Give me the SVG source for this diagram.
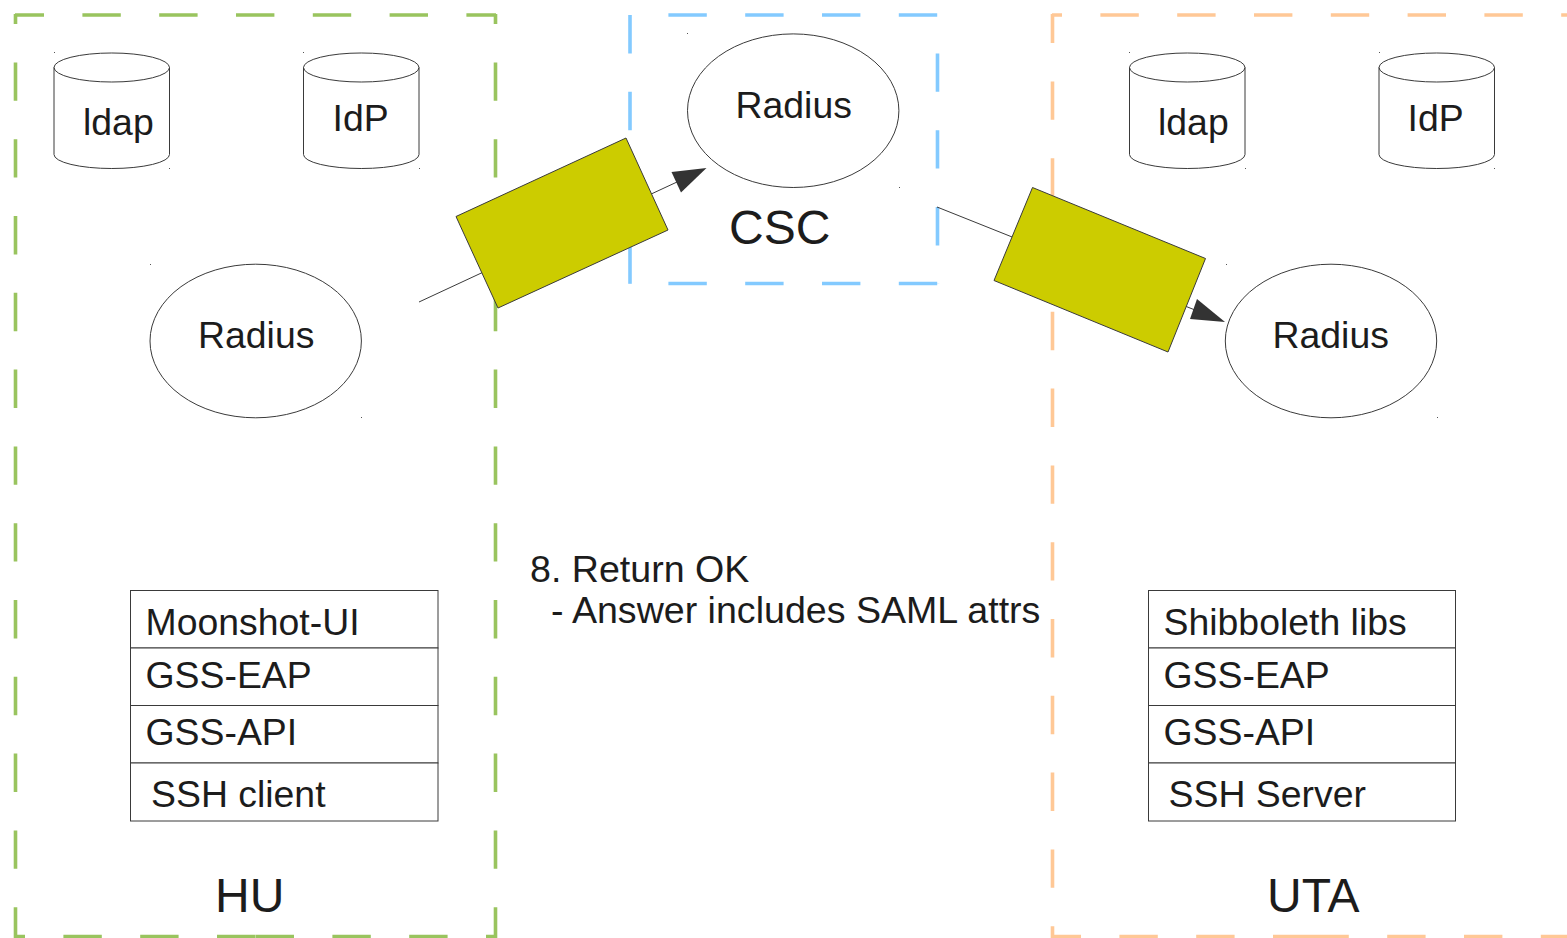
<svg xmlns="http://www.w3.org/2000/svg" width="1567" height="938" viewBox="0 0 1567 938">
<style>
text{font-family:"Liberation Sans",Arial,sans-serif;fill:#1c1c1c;font-size:37.4px}
.big{font-size:48px}
.wide{font-size:37.6px}
.d{fill:none;stroke-width:3.600;stroke-dasharray:38.4 38.4}
.g{stroke:#99c45e}.b{stroke:#83caff}.o{stroke:#ffc896}
.s{fill:#fff;stroke:#3a3a3a;stroke-width:1}
.c{fill:none;stroke:#3a3a3a;stroke-width:1}
.y{fill:#cccc00;stroke:#3a3a3a;stroke-width:1}
.a{fill:#333}
.t{fill:#555}
</style>
<g id="zone-hu">
<path class="d g" stroke-dashoffset="9.4" d="M15 15H496"/>
<path class="d g" stroke-dashoffset="28.4" d="M15.500 14V938"/>
<path class="d g" stroke-dashoffset="28.4" d="M495.500 14V938"/>
<path class="d g" stroke-dashoffset="28.400" d="M15 936.500H255.500"/>
<path class="d g" stroke-dashoffset="28.400" d="M496 936.500H255.500"/>
<text class="big" x="215" y="912">HU</text>
</g>
<g id="zone-csc">
<path class="d b" stroke-dashoffset="38.4" d="M630 15H937.500"/>
<path class="d b" d="M630 15V284"/>
<path class="d b" stroke-dashoffset="38.4" d="M630 283.500H937.500"/>
<path class="d b" stroke-dashoffset="38.4" d="M937.500 15V284"/>
<text class="big" x="729" y="244">CSC</text>
</g>
<g id="zone-uta">
<path class="d o" stroke-dashoffset="28.4" d="M1052 15H1567"/>
<path class="d o" stroke-dashoffset="9.4" d="M1052.500 14V938"/>
<path class="d o" stroke-dashoffset="9.4" d="M1052 936.500H1311"/>
<path class="d o" stroke-dashoffset="9.4" d="M1569.800 936.500H1311"/>
<text class="big" x="1267" y="912">UTA</text>
</g>
<g id="ldap-hu">
<path class="s" d="M54 67.500V154.500A57.700 14 0 0 0 169.500 154.500V67.500A57.700 14.500 0 0 0 54 67.500A57.700 14.500 0 0 0 169.500 67.500"/>
<rect class="t" x="54" y="52" width="1" height="1"/><rect class="t" x="169" y="168" width="1" height="1"/>
<text x="83" y="135">ldap</text>
</g>
<g id="idp-hu">
<path class="s" d="M303.500 67.500V154.500A57.700 14 0 0 0 419 154.500V67.500A57.700 14.500 0 0 0 303.500 67.500A57.700 14.500 0 0 0 419 67.500"/>
<rect class="t" x="303" y="52" width="1" height="1"/><rect class="t" x="419" y="168" width="1" height="1"/>
<text x="332.500" y="131">IdP</text>
</g>
<g id="radius-hu">
<ellipse class="s" cx="255.700" cy="341" rx="105.700" ry="76.800"/>
<rect class="t" x="150" y="264" width="1" height="1"/><rect class="t" x="361" y="417" width="1" height="1"/>
<text x="198" y="348">Radius</text>
</g>
<g id="radius-csc">
<ellipse class="s" cx="793.200" cy="110.700" rx="105.700" ry="76.800"/>
<rect class="t" x="687" y="33" width="1" height="1"/><rect class="t" x="899" y="187" width="1" height="1"/>
<text x="735.500" y="118">Radius</text>
</g>
<g id="ldap-uta">
<path class="s" d="M1129.500 67.500V154.500A57.700 14 0 0 0 1245 154.500V67.500A57.700 14.500 0 0 0 1129.500 67.500A57.700 14.500 0 0 0 1245 67.500"/>
<rect class="t" x="1129" y="52" width="1" height="1"/><rect class="t" x="1245" y="168" width="1" height="1"/>
<text x="1158" y="135">ldap</text>
</g>
<g id="idp-uta">
<path class="s" d="M1379 67.500V154.500A57.700 14 0 0 0 1494.500 154.500V67.500A57.700 14.500 0 0 0 1379 67.500A57.700 14.500 0 0 0 1494.500 67.500"/>
<rect class="t" x="1379" y="52" width="1" height="1"/><rect class="t" x="1494" y="168" width="1" height="1"/>
<text x="1407.500" y="131">IdP</text>
</g>
<g id="radius-uta">
<ellipse class="s" cx="1331" cy="341" rx="105.700" ry="76.800"/>
<rect class="t" x="1226" y="264" width="1" height="1"/><rect class="t" x="1437" y="417" width="1" height="1"/>
<text x="1272.500" y="348">Radius</text>
</g>
<g id="stack-hu">
<rect class="s" x="130.500" y="590.500" width="307.500" height="57.500"/>
<rect class="s" x="130.500" y="648" width="307.500" height="57.500"/>
<rect class="s" x="130.500" y="705.500" width="307.500" height="57.500"/>
<rect class="s" x="130.500" y="763" width="307.500" height="58"/>
<text x="145.500" y="635">Moonshot-UI</text>
<text x="145.500" y="688">GSS-EAP</text>
<text x="145.500" y="745">GSS-API</text>
<text x="151" y="807">SSH client</text>
</g>
<g id="stack-uta">
<rect class="s" x="1148.500" y="590.500" width="307" height="57.500"/>
<rect class="s" x="1148.500" y="648" width="307" height="57.500"/>
<rect class="s" x="1148.500" y="705.500" width="307" height="57.500"/>
<rect class="s" x="1148.500" y="763" width="307" height="58"/>
<text x="1163.500" y="635">Shibboleth libs</text>
<text x="1163.500" y="688">GSS-EAP</text>
<text x="1163.500" y="745">GSS-API</text>
<text x="1168.500" y="807">SSH Server</text>
</g>
<g id="connectors">
<path class="c" d="M419 302L677 182"/>
<polygon class="a" points="706.500,168 671.500,172 681,192.500"/>
<path class="c" d="M937 207L1195 310"/>
<polygon class="a" points="1225,322 1197,299 1190,319"/>
</g>
<g id="message-left"><polygon class="y" points="456,216.500 626,138 668,230 498,308"/></g>
<g id="message-right"><polygon class="y" points="1032.500,187.500 1205.500,258.500 1168,352 994,280.500"/></g>
<g id="label">
<text class="wide" x="530" y="582">8. Return OK</text>
<text class="wide" x="551" y="623">- Answer includes SAML attrs</text>
</g>
</svg>
